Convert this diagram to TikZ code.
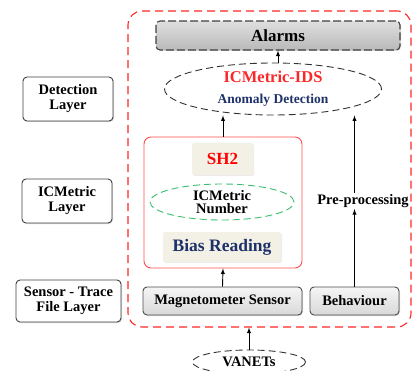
\documentclass[tikz,border=0pt]{standalone}
\usepackage{fontspec}
\setmainfont{Liberation Serif}
\usetikzlibrary{calc,arrows,shadows,shapes.geometric}
\definecolor{idsred}{RGB}{250,40,40}
\definecolor{navytext}{RGB}{30,50,105}
\definecolor{dashgreen}{RGB}{60,190,110}
\definecolor{paper}{RGB}{243,240,230}
\begin{document}
\begin{tikzpicture}[x=1pt,y=-1pt,line width=0.9pt,>=latex,
  txt/.style={font=\bfseries\fontsize{14.5}{15}\selectfont,align=center,inner sep=0pt},
  layerbox/.style={txt,draw=black!75,rounded corners=4pt,fill=white,minimum width=90,minimum height=44,
    drop shadow={opacity=0.3,shadow xshift=1pt,shadow yshift=-1pt}},
  greybox/.style={txt,draw=black!70,rounded corners=4pt,top color=gray!8,bottom color=gray!30,minimum height=28,
    drop shadow={opacity=0.3,shadow xshift=1pt,shadow yshift=-1pt}},
  paperbox/.style={txt,fill=paper,rounded corners=2pt,
    drop shadow={opacity=0.15,shadow xshift=1pt,shadow yshift=-1pt}},
  dashell/.style={txt,ellipse,draw,dashed,dash pattern=on 7pt off 4pt}]
\useasboundingbox (0,0) rectangle (414,371);
\node[layerbox] (detlayer) at (68,99) {Detection\\Layer};
\node[layerbox] (icmlayer) at (67,201) {ICMetric\\Layer};
\node[layerbox,minimum width=105,minimum height=42] (senslayer) at (68.5,301) {Sensor - Trace\\File Layer};
\node[draw=red!85,dashed,dash pattern=on 8pt off 5pt,line width=1.1pt,rounded corners=14pt,minimum width=283,minimum height=316] (outer) at (269.5,169) {};
\node[greybox,draw=black!75,dashed,dash pattern=on 8pt off 3pt,line width=1.1pt,top color=gray!25,bottom color=gray!55,minimum width=244,minimum height=29,font=\bfseries\fontsize{17}{17}\selectfont] (alarms) at (278,35.5) {Alarms};
\node[dashell,draw=black!80,minimum width=217,minimum height=52] (ids) at (273,89) {};
\node[txt,text=idsred,font=\bfseries\fontsize{16.5}{17}\selectfont] (idsname) at (273,77) {ICMetric-IDS};
\node[txt,text=navytext,font=\bfseries\fontsize{13.5}{14}\selectfont] (anomaly) at (273,100) {Anomaly Detection};
\node[draw=red!70,rounded corners=7pt,minimum width=158,minimum height=131] (icmbox) at (223,202.5) {};
\node[paperbox,text=red,minimum width=61,minimum height=32,font=\bfseries\fontsize{17}{17}\selectfont] (sha) at (222.5,159) {SH2};
\node[dashell,draw=dashgreen,minimum width=144,minimum height=36,font=\bfseries\fontsize{14.5}{13}\selectfont] (icmnum) at (222,202) {ICMetric\\Number};
\node[paperbox,text=navytext,minimum width=118,minimum height=30,font=\bfseries\fontsize{17.5}{17}\selectfont] (bias) at (222,247) {Bias Reading};
\node[greybox,minimum width=159] (magnet) at (222.5,301) {Magnetometer Sensor};
\node[greybox,minimum width=89] (behav) at (354.5,301) {Behaviour};
\node[txt,fill=white,inner sep=1pt] (prep) at (363,201) {Pre-processing};
\node[dashell,draw=black!80,minimum width=113,minimum height=24] (vanets) at (249,362) {VANETs};
\draw[->] (alarms.south |- ids.north) -- (alarms.south);
\draw[->] (icmbox.north) -- (icmbox.north |- ids.south);
\draw[->] (magnet.north) -- (icmbox.south);
\draw[->] (behav.north) -- (behav.north |- prep.south);
\draw[->] (behav.north |- prep.north) -- (behav.north |- ids.south);
\draw[->] (vanets.north) -- (vanets.north |- outer.south);
\end{tikzpicture}
\end{document}
